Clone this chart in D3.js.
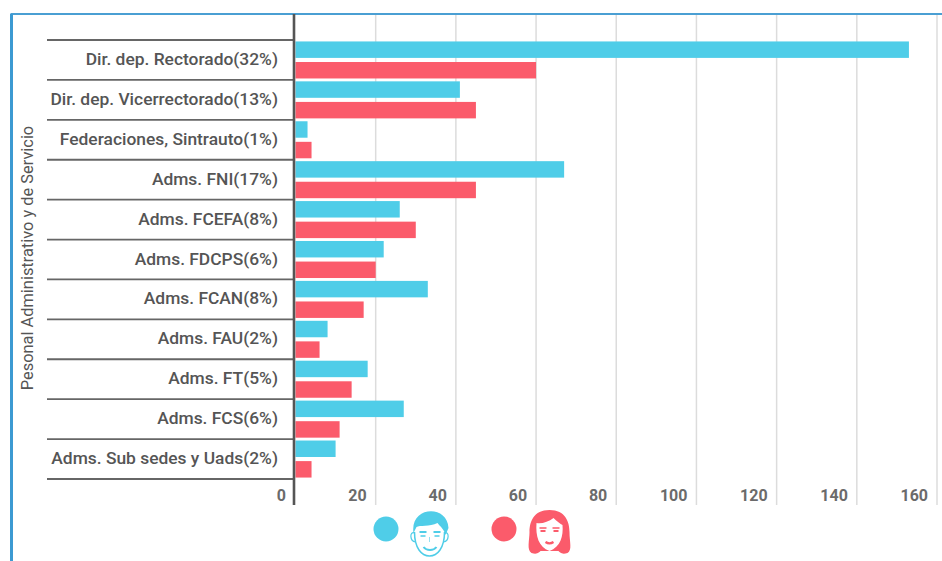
<!DOCTYPE html>
<html>
<head>
  <meta charset="utf-8">
  <script src="https://d3js.org/d3.v7.min.js"></script>
  <style>
    html, body { margin: 0; padding: 0; background: #fff; }
    svg { display: block; font-family: Roboto, sans-serif; }
    .tick-label { font-size: 16px; font-weight: 700; fill: #6b6b6b; }
    .cat-label { font-size: 17.4px; font-weight: 500; fill: #555; }
  </style>
</head>
<body>
  <svg id="chart" width="942" height="561"></svg>
  <script>
    var categories = [
      "Dir. dep. Rectorado(32%)", "Dir. dep. Vicerrectorado(13%)", "Federaciones, Sintrauto(1%)",
      "Adms. FNI(17%)", "Adms. FCEFA(8%)", "Adms. FDCPS(6%)", "Adms. FCAN(8%)",
      "Adms. FAU(2%)", "Adms. FT(5%)", "Adms. FCS(6%)", "Adms. Sub sedes y Uads(2%)"
    ];
    var hombres = [153, 41, 3, 67, 26, 22, 33, 8, 18, 27, 10];
    var mujeres = [60, 45, 4, 45, 30, 20, 17, 6, 14, 11, 4];
    var xTicks = [0, 20, 40, 60, 80, 100, 120, 140, 160];
    var yTitle = "Pesonal Administrativo y de Servicio";

    var blue = "#4fcde8", red = "#fb5b6b";
    var svg = d3.select("#chart");

    var x = d3.scaleLinear().domain([0, 160]).range([295.5, 937]);
    var y = d3.scaleBand().domain(categories).range([40, 479]);
    var sub = d3.scaleBand().domain(["h", "m"]).range([0, y.bandwidth()]).paddingInner(0.2).paddingOuter(0.07);

    // marco azul
    svg.append("path").attr("d", "M11.5,561V14H942").attr("fill", "none")
      .attr("stroke", "#4a9fd3").attr("stroke-width", 2);
    svg.append("line").attr("x1", 11.5).attr("x2", 11.5).attr("y1", 14).attr("y2", 561)
      .attr("stroke", "#3c9ad2").attr("stroke-width", 3);

    // rejilla
    svg.selectAll(".grid").data(xTicks.slice(1)).enter().append("line")
      .attr("class", "grid")
      .attr("x1", function(d) { return x(d); })
      .attr("x2", function(d) { return x(d); })
      .attr("y1", 15).attr("y2", 505)
      .attr("stroke", "#dcdcdc").attr("stroke-width", 1.5);

    // separadores de filas
    svg.selectAll(".sep").data(d3.range(categories.length + 1)).enter().append("line")
      .attr("class", "sep")
      .attr("x1", 47).attr("x2", 294)
      .attr("y1", function(d) { return 40 + d * y.step(); })
      .attr("y2", function(d) { return 40 + d * y.step(); })
      .attr("stroke", "#666").attr("stroke-width", 1.8);

    // barras
    var rows = svg.selectAll(".row").data(categories).enter().append("g")
      .attr("class", "row")
      .attr("transform", function(d) { return "translate(0," + y(d) + ")"; });

    rows.append("rect")
      .attr("x", x(0))
      .attr("y", sub("h"))
      .attr("width", function(d, i) { return x(hombres[i]) - x(0); })
      .attr("height", sub.bandwidth())
      .attr("fill", blue);

    rows.append("rect")
      .attr("x", x(0))
      .attr("y", sub("m"))
      .attr("width", function(d, i) { return x(mujeres[i]) - x(0); })
      .attr("height", sub.bandwidth())
      .attr("fill", red);

    rows.append("text")
      .attr("class", "cat-label")
      .attr("x", 278)
      .attr("y", y.bandwidth() / 2 - 1)
      .attr("dy", "0.35em")
      .attr("text-anchor", "end")
      .text(function(d) { return d; });

    // eje vertical
    svg.append("line").attr("x1", 294).attr("x2", 294).attr("y1", 14).attr("y2", 505)
      .attr("stroke", "#555").attr("stroke-width", 2.6);

    // etiquetas del eje x
    svg.selectAll(".tick-label").data(xTicks).enter().append("text")
      .attr("class", "tick-label")
      .attr("x", function(d) { return d === 0 ? 286 : x(d) - 9; })
      .attr("y", 501)
      .attr("text-anchor", "end")
      .text(function(d) { return d; });

    svg.append("text")
      .attr("transform", "translate(33,258) rotate(-90)")
      .attr("text-anchor", "middle")
      .attr("font-size", 16.4)
      .attr("fill", "#555")
      .text(yTitle);

    // leyenda
    svg.append("circle").attr("cx", 386).attr("cy", 529).attr("r", 12.5).attr("fill", blue);
    svg.append("circle").attr("cx", 504).attr("cy", 529).attr("r", 12.5).attr("fill", red);

    // cara hombre
    var man = svg.append("g").attr("transform", "translate(429.5,534)");
    man.append("path").attr("d", "M-15,-2C-15,14 -8,22 0,22C8,22 15,14 15,-2")
      .attr("fill", "#fff").attr("stroke", blue).attr("stroke-width", 1.5);
    man.append("path").attr("d", "M-15,-1C-20,-3 -20,7 -14,8M15,-1C20,-3 20,7 14,8")
      .attr("fill", "none").attr("stroke", blue).attr("stroke-width", 1.2);
    man.append("path").attr("d", "M-16,-1C-20,-28 18,-30 19,-6L16,1C14,-6 10,-8 8,-11C0,-7 -10,-9 -13,-7C-14,-5 -15,-3 -16,-1Z")
      .attr("fill", blue);
    man.append("path").attr("d", "M-10,-2H-3M4,-2H11").attr("stroke", blue).attr("stroke-width", 2);
    man.append("path").attr("d", "M-9,2H-4M5,2H10").attr("stroke", blue).attr("stroke-width", 1.5);
    man.append("path").attr("d", "M-6,13C-3,17 4,17 7,13").attr("fill", "none").attr("stroke", blue).attr("stroke-width", 2);
    man.append("path").attr("d", "M0,3V8").attr("stroke", blue).attr("stroke-width", 1).attr("opacity", 0.6);

    // cara mujer
    var woman = svg.append("g").attr("transform", "translate(549.5,532)");
    woman.append("path").attr("d", "M0,-22C16,-22 20,-10 20,0C20,10 23,18 18,21C12,23 10,20 9,19H-9C-10,20 -12,23 -18,21C-23,18 -20,8 -20,0C-20,-10 -16,-22 0,-22Z")
      .attr("fill", red);
    woman.append("path").attr("d", "M-13,-9C-8,-8 -1,-10 4,-14C7,-11 11,-8 13,-7C14,4 11,15 0,19C-11,15 -14,4 -13,-9Z")
      .attr("fill", "#fff");
    woman.append("path").attr("d", "M-10,-4H-3M3,-4H10").attr("stroke", red).attr("stroke-width", 1.5);
    woman.append("path").attr("d", "M-9,-1H-4M4,-1H9").attr("stroke", red).attr("stroke-width", 2);
    woman.append("path").attr("d", "M-4,10C-1,12 1,12 4,10").attr("fill", "none").attr("stroke", red).attr("stroke-width", 2.2);
  </script>
</body>
</html>
